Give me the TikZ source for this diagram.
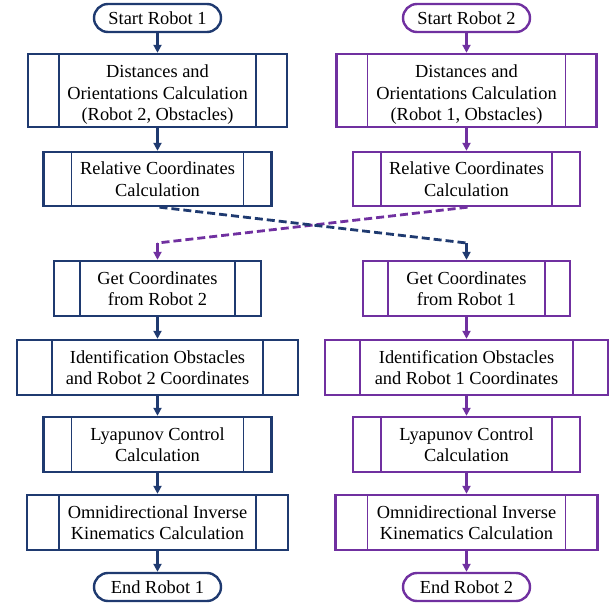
\documentclass[tikz,border=0pt]{standalone}
\usepackage{fontspec}
\setmainfont{Liberation Serif}
\usetikzlibrary{arrows.meta}
\definecolor{robotblue}{HTML}{1F3A70}
\definecolor{robotpurple}{HTML}{7030A0}

\begin{document}
\begin{tikzpicture}[x=1pt, y=-1pt,
		font=\rmfamily\fontsize{18.4}{21.5}\selectfont,
		robA/.style={color=robotblue, text=black},
		robB/.style={color=robotpurple, text=black},
		term/.style={draw, line width=2.4pt, rounded corners=14pt, minimum width=127pt, minimum height=28pt, inner sep=0pt},
		proc/.style={draw, line width=2.4pt, align=center, inner sep=0pt, minimum height=55pt, path picture={
			\draw[line width=1.6pt] ([xshift=#1]path picture bounding box.north west) -- ([xshift=#1]path picture bounding box.south west);
			\draw[line width=1.6pt] ([xshift=-#1]path picture bounding box.north east) -- ([xshift=-#1]path picture bounding box.south east);}},
		flow/.style={line width=2.6pt, -{Triangle[length=8pt, width=8pt]}},
		cross/.style={line width=2.8pt, dash pattern=on 8pt off 4pt}]
		\useasboundingbox (0,0) rectangle (616,607);

		% robot 1
		\node[term, robA] (startA) at (157.5,18) {Start Robot 1};
		\node[proc=31, robA, minimum width=259pt, minimum height=73pt] (distA) at (157.5,90.5) {\rule{0pt}{21pt}Distances and\\Orientations Calculation\\(Robot 2, Obstacles)};
		\node[proc=28, robA, minimum width=228pt, minimum height=54pt] (relA) at (157.5,179) {Relative Coordinates\\Calculation};
		\node[proc=26, robA, minimum width=207pt] (getA) at (157.5,288.5) {Get Coordinates\\from Robot 2};
		\node[proc=35, robA, minimum width=281pt] (idA) at (157.5,367.5) {Identification Obstacles\\and Robot 2 Coordinates};
		\node[proc=28, robA, minimum width=228pt] (lyaA) at (157.5,444.5) {Lyapunov Control\\Calculation};
		\node[proc=32, robA, minimum width=261pt] (omniA) at (157.5,522.5) {Omnidirectional Inverse\\Kinematics Calculation};
		\node[term, robA] (endA) at (157.5,587) {End Robot 1};

		% robot 2
		\node[term, robB] (startB) at (466.5,18) {Start Robot 2};
		\node[proc=31, robB, minimum width=260pt, minimum height=73pt] (distB) at (466.5,90.5) {\rule{0pt}{21pt}Distances and\\Orientations Calculation\\(Robot 1, Obstacles)};
		\node[proc=28, robB, minimum width=227pt, minimum height=54pt] (relB) at (466.5,179) {Relative Coordinates\\Calculation};
		\node[proc=25, robB, minimum width=207pt] (getB) at (466.5,288.5) {Get Coordinates\\from Robot 1};
		\node[proc=35, robB, minimum width=283pt] (idB) at (466.5,367.5) {Identification Obstacles\\and Robot 1 Coordinates};
		\node[proc=28, robB, minimum width=227pt] (lyaB) at (466.5,444.5) {Lyapunov Control\\Calculation};
		\node[proc=32, robB, minimum width=262pt] (omniB) at (466.5,522.5) {Omnidirectional Inverse\\Kinematics Calculation};
		\node[term, robB] (endB) at (466.5,587) {End Robot 2};

		\foreach \r/\c in {A/robotblue, B/robotpurple}
			\foreach \a/\b in {start/dist, dist/rel, get/id, id/lya, lya/omni, omni/end}
				\draw[flow, \c] (\a\r) -- (\b\r);

		% exchange of coordinates
		\coordinate (bendA) at (466.5,243);
		\coordinate (bendB) at (157.5,243);
		\draw[cross, robotpurple] ([xshift=1]relB.south) -- (bendB);
		\draw[flow, robotpurple] (bendB) -- (getA);
		\draw[cross, robotblue] ([xshift=2]relA.south) -- (bendA);
		\draw[flow, robotblue] (bendA) -- (getB);
	\end{tikzpicture}
\end{document}
